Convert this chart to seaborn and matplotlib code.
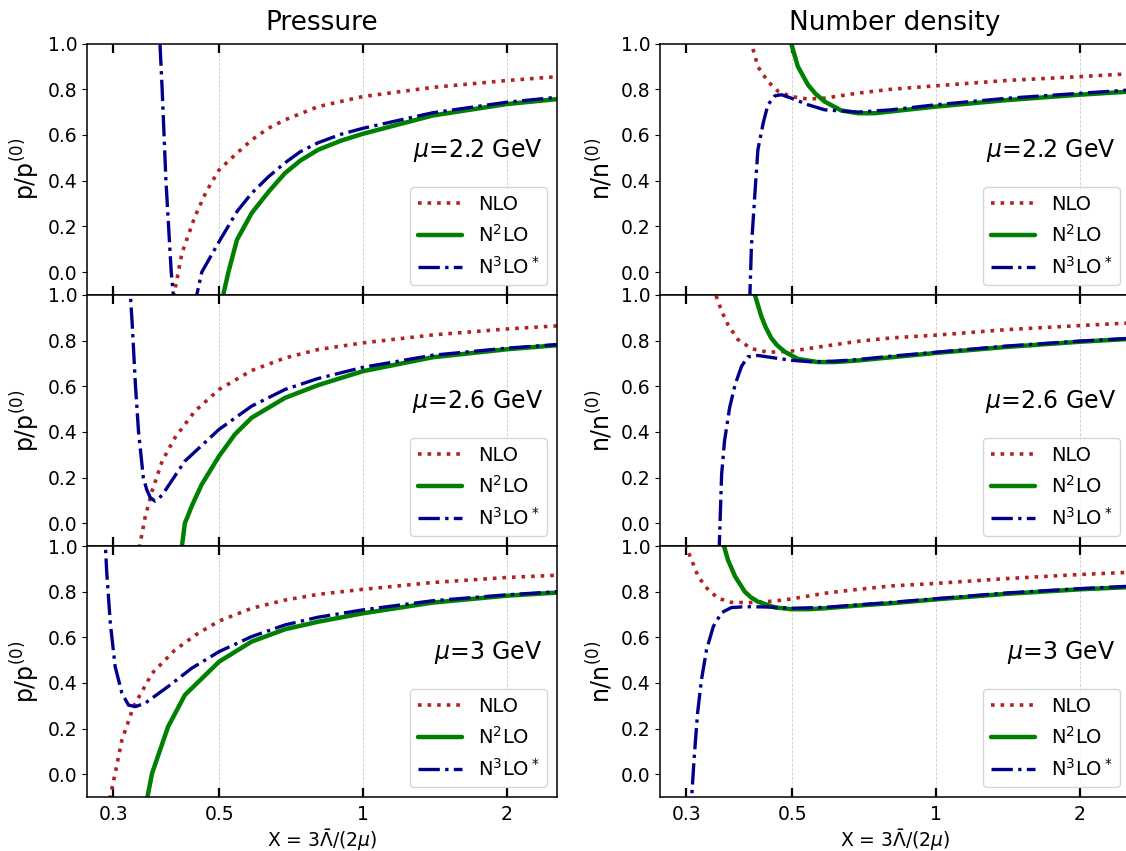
import numpy as np
import pandas as pd
import matplotlib
matplotlib.use("Agg")
import matplotlib.pyplot as plt
import seaborn as sns
from matplotlib.ticker import FixedLocator, FixedFormatter, NullLocator

sns.set_style("ticks")
plt.rcParams['font.family'] = ['DejaVu Sans']
plt.rcParams['text.color'] = 'black'
plt.rcParams['axes.labelcolor'] = 'black'
plt.rcParams['xtick.color'] = 'black'
plt.rcParams['ytick.color'] = 'black'

# ---------------- data ----------------
# Pressure, mu = 2.2 GeV
p22_nlo_x = [0.400, 0.403, 0.418, 0.445, 0.47, 0.50, 0.54, 0.585, 0.635, 0.687, 0.806, 1.0, 1.4, 2.0, 2.56]
p22_nlo_y = [-0.15, -0.09, 0.083, 0.243, 0.352, 0.447, 0.513, 0.578, 0.63, 0.666, 0.724, 0.768, 0.808, 0.838, 0.855]
p22_n2_x = [0.505, 0.510, 0.523, 0.545, 0.585, 0.635, 0.687, 0.74, 0.806, 0.9, 1.0, 1.4, 2.0, 2.56]
p22_n2_y = [-0.2, -0.1, 0.0, 0.141, 0.258, 0.352, 0.433, 0.488, 0.535, 0.575, 0.605, 0.685, 0.735, 0.757]
p22_n3_x = [0.372, 0.376, 0.380, 0.387, 0.397, 0.401, 0.425, 0.449, 0.460, 0.498, 0.545, 0.585,
            0.635, 0.687, 0.74, 0.806, 0.9, 1.0, 1.4, 2.0, 2.56]
p22_n3_y = [1.15, 1.0, 0.8, 0.4, 0.0, -0.1, -0.35, -0.1, 0.0, 0.127, 0.265, 0.345,
            0.418, 0.478, 0.527, 0.566, 0.603, 0.629, 0.697, 0.743, 0.765]

# Pressure, mu = 2.6 GeV
p26_nlo_x = [0.338, 0.342, 0.350, 0.362, 0.380, 0.404, 0.445, 0.50, 0.585, 0.687, 0.806, 1.0, 1.4, 2.0, 2.56]
p26_nlo_y = [-0.15, -0.085, 0.025, 0.141, 0.272, 0.374, 0.491, 0.586, 0.669, 0.724, 0.761, 0.79, 0.825, 0.851, 0.865]
p26_n2_x = [0.414, 0.418, 0.424, 0.44, 0.46, 0.50, 0.54, 0.585, 0.687, 0.806, 1.0, 1.4, 2.0, 2.56]
p26_n2_y = [-0.2, -0.1, 0.0, 0.083, 0.17, 0.294, 0.39, 0.462, 0.549, 0.605, 0.666, 0.727, 0.762, 0.78]
p26_n3_x = [0.324, 0.326, 0.329, 0.334, 0.339, 0.347, 0.353, 0.359, 0.367, 0.375, 0.385, 0.424, 0.50, 0.585,
            0.687, 0.806, 1.0, 1.4, 2.0, 2.56]
p26_n3_y = [1.1, 1.0, 0.87, 0.608, 0.404, 0.2, 0.145, 0.112, 0.097, 0.11, 0.141, 0.272, 0.411, 0.513,
            0.586, 0.634, 0.683, 0.736, 0.767, 0.783]

# Pressure, mu = 3 GeV
p30_nlo_x = [0.293, 0.296, 0.303, 0.313, 0.331, 0.362, 0.404, 0.45, 0.50, 0.585, 0.687, 0.806, 1.0, 1.4, 2.0, 2.56]
p30_nlo_y = [-0.15, -0.095, 0.004, 0.15, 0.296, 0.442, 0.544, 0.615, 0.671, 0.727, 0.763, 0.788, 0.81, 0.84, 0.862, 0.872]
p30_n2_x = [0.350, 0.354, 0.362, 0.391, 0.424, 0.50, 0.585, 0.687, 0.806, 1.0, 1.4, 2.0, 2.56]
p30_n2_y = [-0.2, -0.1, 0.004, 0.208, 0.347, 0.493, 0.581, 0.635, 0.668, 0.705, 0.752, 0.782, 0.796]
p30_n3_x = [0.287, 0.289, 0.291, 0.296, 0.303, 0.313, 0.323, 0.334, 0.350, 0.391, 0.438, 0.50,
            0.585, 0.687, 0.806, 1.0, 1.4, 2.0, 2.56]
p30_n3_y = [1.1, 1.0, 0.88, 0.661, 0.471, 0.355, 0.303, 0.296, 0.311, 0.384, 0.464, 0.537,
            0.603, 0.654, 0.688, 0.72, 0.76, 0.786, 0.80]

# Number density, mu = 2.2 GeV
n22_nlo_x = [0.405, 0.411, 0.424, 0.445, 0.468, 0.498, 0.54, 0.585, 0.687, 0.807, 1.0, 1.4, 2.0, 2.56]
n22_nlo_y = [1.1, 1.0, 0.899, 0.834, 0.79, 0.768, 0.757, 0.761, 0.783, 0.80, 0.815, 0.838, 0.855, 0.868]
n22_n2_x = [0.492, 0.498, 0.514, 0.54, 0.56, 0.585, 0.634, 0.687, 0.745, 0.807, 1.0, 1.4, 2.0, 2.56]
n22_n2_y = [1.1, 1.0, 0.9, 0.819, 0.78, 0.746, 0.707, 0.695, 0.695, 0.703, 0.724, 0.752, 0.776, 0.79]
n22_n3_x = [0.405, 0.408, 0.411, 0.418, 0.424, 0.435, 0.445, 0.46, 0.475, 0.498, 0.54, 0.585,
            0.687, 0.807, 1.0, 1.4, 2.0, 2.56]
n22_n3_y = [-0.3, -0.1, 0.112, 0.345, 0.535, 0.652, 0.732, 0.771, 0.776, 0.761, 0.732, 0.71,
            0.70, 0.71, 0.732, 0.76, 0.782, 0.797]

# Number density, mu = 2.6 GeV
n26_nlo_x = [0.342, 0.347, 0.356, 0.367, 0.385, 0.411, 0.445, 0.498, 0.585, 0.687, 0.807, 1.0, 1.4, 2.0, 2.56]
n26_nlo_y = [1.08, 0.994, 0.929, 0.87, 0.805, 0.765, 0.749, 0.754, 0.776, 0.797, 0.812, 0.824, 0.848, 0.866, 0.878]
n26_n2_x = [0.414, 0.418, 0.431, 0.44, 0.452, 0.465, 0.483, 0.514, 0.566, 0.614, 0.687, 0.807, 1.0, 1.4, 2.0, 2.56]
n26_n2_y = [1.08, 1.0, 0.907, 0.86, 0.812, 0.78, 0.751, 0.72, 0.706, 0.706, 0.713, 0.727, 0.746, 0.772, 0.795, 0.808]
n26_n3_x = [0.350, 0.352, 0.356, 0.361, 0.370, 0.380, 0.392, 0.404, 0.424, 0.46, 0.498, 0.549,
            0.614, 0.687, 0.807, 1.0, 1.4, 2.0, 2.56]
n26_n3_y = [-0.3, -0.1, 0.214, 0.36, 0.506, 0.608, 0.688, 0.729, 0.735, 0.724, 0.714, 0.707,
            0.71, 0.717, 0.732, 0.749, 0.776, 0.798, 0.81]

# Number density, mu = 3 GeV
n30_nlo_x = [0.298, 0.302, 0.308, 0.318, 0.334, 0.35, 0.373, 0.411, 0.46, 0.498, 0.585, 0.687,
             0.807, 1.0, 1.4, 2.0, 2.56]
n30_nlo_y = [1.05, 0.982, 0.939, 0.866, 0.807, 0.771, 0.753, 0.752, 0.759, 0.768, 0.793, 0.81,
             0.825, 0.836, 0.857, 0.875, 0.885]
n30_n2_x = [0.355, 0.359, 0.367, 0.38, 0.398, 0.41, 0.424, 0.46, 0.498, 0.54, 0.585, 0.687, 0.807,
            1.0, 1.4, 2.0, 2.56]
n30_n2_y = [1.08, 1.01, 0.939, 0.866, 0.80, 0.775, 0.756, 0.731, 0.723, 0.723, 0.727, 0.739, 0.749,
            0.766, 0.79, 0.81, 0.82]
n30_n3_x = [0.306, 0.308, 0.312, 0.317, 0.323, 0.331, 0.342, 0.356, 0.373, 0.398, 0.438, 0.498,
            0.585, 0.687, 0.807, 1.0, 1.4, 2.0, 2.56]
n30_n3_y = [-0.2, -0.105, 0.077, 0.267, 0.413, 0.545, 0.647, 0.708, 0.73, 0.734, 0.733, 0.727,
            0.731, 0.742, 0.753, 0.769, 0.794, 0.813, 0.824]

mu_labels = [r"$\mu$=2.2 GeV", r"$\mu$=2.6 GeV", r"$\mu$=3 GeV"]
col_titles = ["Pressure", "Number density"]
y_labels = [r"p/p$^{(0)}$", r"n/n$^{(0)}$"]
series_labels = ["NLO", r"N$^2$LO", r"N$^3$LO$^*$"]
x_ticks = [0.3, 0.5, 1, 2]
x_tick_labels = ["0.3", "0.5", "1", "2"]
y_ticks = [0.0, 0.2, 0.4, 0.6, 0.8, 1.0]
grid_x = [0.5, 1, 2]
x_label = r"X = 3$\bar{\Lambda}$/(2$\mu$)"

panels = [
    [[(p22_nlo_x, p22_nlo_y), (p22_n2_x, p22_n2_y), (p22_n3_x, p22_n3_y)],
     [(n22_nlo_x, n22_nlo_y), (n22_n2_x, n22_n2_y), (n22_n3_x, n22_n3_y)]],
    [[(p26_nlo_x, p26_nlo_y), (p26_n2_x, p26_n2_y), (p26_n3_x, p26_n3_y)],
     [(n26_nlo_x, n26_nlo_y), (n26_n2_x, n26_n2_y), (n26_n3_x, n26_n3_y)]],
    [[(p30_nlo_x, p30_nlo_y), (p30_n2_x, p30_n2_y), (p30_n3_x, p30_n3_y)],
     [(n30_nlo_x, n30_nlo_y), (n30_n2_x, n30_n2_y), (n30_n3_x, n30_n3_y)]],
]

styles = [
    dict(color="#b22222", linestyle=":", linewidth=2.6),
    dict(color="green", linestyle="-", linewidth=3.2),
    dict(color="darkblue", linestyle="-.", linewidth=2.4),
]

# ---------------- figure ----------------
W, H = 1126, 851
fig = plt.figure(figsize=(W / 100, H / 100), dpi=100)

col_left = [87 / W, 660 / W]
ax_w = (557 - 87) / W
row_edges = [43.5, 295, 546, 797]

for r in range(3):
    for c in range(2):
        top = row_edges[r]
        bot = row_edges[r + 1]
        ax = fig.add_axes([col_left[c], 1 - bot / H, ax_w, (bot - top) / H])
        for (xs, ys), st, lab in zip(panels[r][c], styles, series_labels):
            df = pd.DataFrame({"x": xs, "y": ys})
            sns.lineplot(data=df, x="x", y="y", ax=ax, estimator=None, sort=False,
                         label=lab, **st)
        ax.set_xscale("log")
        ax.set_xlim(0.2645, 2.55)
        ax.set_ylim(-0.1, 1.0)
        for gx in grid_x:
            ax.axvline(gx, color="#cccccc", linestyle="--", linewidth=0.6, zorder=0)
        ax.xaxis.set_major_locator(FixedLocator(x_ticks))
        ax.xaxis.set_major_formatter(FixedFormatter(x_tick_labels))
        ax.xaxis.set_minor_locator(NullLocator())
        ax.set_yticks(y_ticks)
        ax.set_yticklabels([f"{v:.1f}" for v in y_ticks])
        ax.tick_params(axis="x", which="major", direction="in", top=True, bottom=True,
                       length=6.5, width=1.6, labelsize=13.5, pad=6)
        ax.tick_params(axis="y", labelsize=13.5, length=3.5)
        if r < 2:
            ax.tick_params(axis="x", labelbottom=False)
            ax.set_xlabel("")
        else:
            ax.set_xlabel(x_label, fontsize=13.5, labelpad=2)
        ax.set_ylabel(y_labels[c], fontsize=17, labelpad=4)
        if r == 0:
            ax.set_title(col_titles[c], fontsize=19, pad=10)
        for sp in ax.spines.values():
            sp.set_linewidth(1.1)
            sp.set_color("black")
        ax.text(0.97, 0.575, mu_labels[r], transform=ax.transAxes, ha="right",
                va="center", fontsize=17)
        leg = ax.legend(loc="lower right", fontsize=14, handlelength=2.3,
                        frameon=True, fancybox=True)
        leg.get_frame().set_edgecolor("#cccccc")

fig.savefig("out.png", dpi=100)
